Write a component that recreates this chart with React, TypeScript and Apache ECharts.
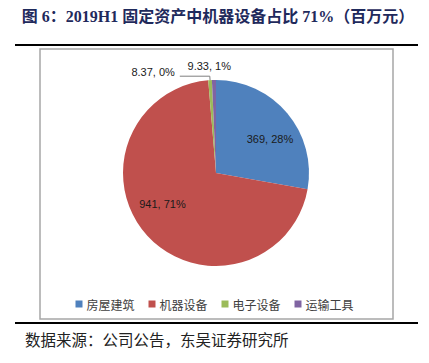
import React, { useEffect, useRef } from "react";
import * as echarts from "echarts";

const categories = ["房屋建筑", "机器设备", "电子设备", "运输工具"];
const values = [369, 941, 8.37, 9.33];
const valueLabels = ["369", "941", "8.37", "9.33"];
const percentLabels = ["28%", "71%", "0%", "1%"];
const colors = ["#4f81bd", "#c0504d", "#9bbb59", "#8064a2"];
const titleText = "图 6：2019H1 固定资产中机器设备占比 71%（百万元）";
const sourceText = "数据来源：公司公告，东吴证券研究所";

export default function App() {
  const ref = useRef<HTMLDivElement>(null);
  useEffect(() => {
    if (!ref.current) return;
    const chart = echarts.init(ref.current, null, { renderer: "svg" });
    const labelCfg: any[] = [
      { position: "inside", offset: [16, -2] },
      { position: "inside", offset: [-17, -2] },
      { position: "outside" },
      { position: "outside" },
    ];
    const lineCfg: any[] = [
      { show: false },
      { show: false },
      { show: true, length: 4, length2: 30, lineStyle: { color: "#7f7f7f", width: 1 } },
      { show: false, length: 0, length2: 0 },
    ];
    chart.setOption({
      animation: false,
      color: colors,
      graphic: [
        {
          type: "text",
          x: 218,
          y: 16,
          style: {
            text: titleText,
            align: "center",
            verticalAlign: "middle",
            fontSize: 16,
            fontWeight: "bold",
            fontFamily: "'Liberation Serif', 'Noto Sans CJK SC', serif",
            fill: "#1f2a5c",
          },
        },
        {
          type: "line",
          shape: { x1: 15, y1: 45, x2: 418, y2: 45 },
          style: { stroke: "#000", lineWidth: 2 },
        },
        {
          type: "rect",
          shape: { x: 40, y: 49, width: 353, height: 270 },
          style: { fill: "#fff", stroke: "#a6a6a6", lineWidth: 1.5 },
          z: -1,
        },
        {
          type: "line",
          shape: { x1: 15, y1: 323, x2: 418, y2: 323 },
          style: { stroke: "#000", lineWidth: 2 },
        },
        {
          type: "text",
          left: 25,
          top: 331,
          style: {
            text: sourceText,
            fontSize: 15.5,
            fontFamily: "'Noto Sans CJK SC', sans-serif",
            fill: "#222",
          },
        },
      ],
      legend: {
        data: categories,
        left: "center",
        top: 293,
        icon: "rect",
        itemWidth: 7,
        itemHeight: 7,
        itemGap: 14,
        textStyle: {
          fontSize: 12,
          fontFamily: "'Noto Sans CJK SC', sans-serif",
          color: "#404040",
          padding: [0, 0, 0, -1],
        },
      },
      series: [
        {
          type: "pie",
          center: [216, 173],
          radius: 93,
          startAngle: 90,
          clockwise: true,
          avoidLabelOverlap: false,
          itemStyle: { borderWidth: 0 },
          label: {
            fontSize: 11,
            fontFamily: "'Liberation Sans', sans-serif",
            color: "#1a1a1a",
          },
          labelLayout: (p: any) =>
            p.dataIndex === 3 ? { dx: 22, dy: -14 } : p.dataIndex === 2 ? { dy: -4 } : {},
          data: categories.map((name, i) => ({
            name,
            value: values[i],
            label: {
              ...labelCfg[i],
              formatter: `${valueLabels[i]}, ${percentLabels[i]}`,
            },
            labelLine: lineCfg[i],
          })),
        },
      ],
    });
    return () => chart.dispose();
  }, []);
  return (
    <div
      ref={ref}
      style={{ position: "absolute", left: 0, top: 0, width: 429, height: 363 }}
    />
  );
}
